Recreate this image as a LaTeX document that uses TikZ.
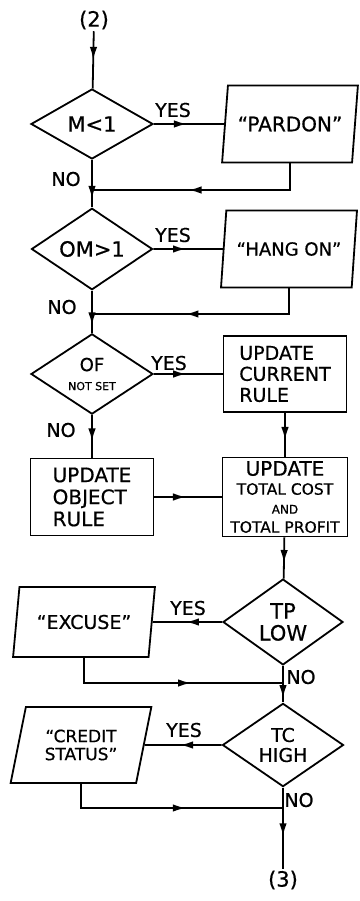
\documentclass[tikz,border=0pt]{standalone}
\usepackage{fontspec}
\setmainfont{DejaVu Sans}[FakeBold=0.6]
\usetikzlibrary{arrows.meta,shapes.geometric,decorations.markings}

\begin{document}
\begin{tikzpicture}[x=1pt, y=-1pt,
    line width=1.8pt,
    flow/.style={postaction={decorate}, decoration={markings,
      mark=at position #1 with {\arrow{Latex[length=13pt,width=7.5pt]}}}},
    flow/.default=0.5,
    test/.style={diamond, draw, inner sep=0pt, align=center, font=\fontsize{21}{22}\selectfont},
    io/.style={trapezium, trapezium left angle=72, trapezium right angle=108,
      trapezium stretches=true, draw, inner sep=0pt, align=center,
      minimum width=136pt, font=\fontsize{20}{21}\selectfont},
    act/.style={rectangle, draw, minimum width=123pt, minimum height=77pt, inner sep=0pt,
      font=\fontsize{20}{22}\selectfont},
    ans/.style={font=\fontsize{19}{19}\selectfont, inner sep=0pt},
    conn/.style={font=\fontsize{21}{21}\selectfont, inner sep=1pt}]
  % fixed 359 x 901 canvas, y grows downwards
  \path[use as bounding box] (0,0) rectangle (359,901);

  % ================= entry =================
  \node[conn] (in2) at (94,20) {(2)};

  % ================= row 1: M < 1 =================
  \node[test, minimum width=122pt, minimum height=70pt] (dM) at (92,124) {M<1};
  \node[io, minimum height=77pt] (pPar) at (290,124) {``PARDON''};
  \coordinate (j1) at (92,190);

  % ================= row 2: OM > 1 =================
  \node[test, minimum width=121pt, minimum height=69pt] (dOM) at (92,249) {OM>1};
  \node[io, minimum height=77pt, font=\fontsize{18}{19}\selectfont] (pHang) at (289,249) {``HANG ON''};
  \coordinate (j2) at (92,314);

  % ================= row 3: OF not set =================
  \node[test, minimum width=122pt, minimum height=68pt] (dOF) at (92,374)
    {{\fontsize{18}{18}\selectfont OF}\\[-3pt]{\fontsize{11}{12}\selectfont NOT SET}};
  \node[act, align=left, minimum height=76pt, font=\fontsize{19}{21}\selectfont] (bCur) at (285,374)
    {UPDATE\\CURRENT\\RULE};

  % ================= row 4: updates =================
  \node[act, align=left] (bObj) at (92,497) {UPDATE\\OBJECT\\RULE};
  \node[act, align=center, minimum width=125pt, minimum height=79pt] (bTot) at (285,497)
    {UPDATE\\[-3pt]{\fontsize{15.5}{15}\selectfont TOTAL COST}\\[-3pt]
     {\fontsize{12}{12}\selectfont AND}\\[-3pt]{\fontsize{15.5}{15}\selectfont TOTAL PROFIT}};

  % ================= row 5: TP low =================
  \node[test, minimum width=120pt, minimum height=70pt] (dTP) at (283,622) {TP\\LOW};
  \node[io, minimum height=70pt, minimum width=142pt, font=\fontsize{19}{20}\selectfont] (pExc) at (84,622)
    {``EXCUSE''};
  \coordinate (j3) at (283,683);

  % ================= row 6: TC high =================
  \node[test, minimum width=121pt, minimum height=68pt, font=\fontsize{19}{20}\selectfont] (dTC) at (283,745)
    {TC\\HIGH};
  \node[io, minimum height=76pt, minimum width=142pt, font=\fontsize{17}{18}\selectfont] (pCred) at (81,745)
    {``CREDIT\\STATUS''};
  \coordinate (j4) at (283,808);

  % ================= exit =================
  \node[conn] (out3) at (283,880) {(3)};

  % ================= answers =================
  \node[ans] (yM) at (173,110) {YES};
  \node[ans] (nM) at (66,179) {NO};
  \node[ans] (yOM) at (173,235) {YES};
  \node[ans] (nOM) at (62,307) {NO};
  \node[ans] (yOF) at (169,363) {YES};
  \node[ans] (nOF) at (61,430) {NO};
  \node[ans] (yTP) at (188,608) {YES};
  \node[ans] (nTP) at (301,677) {NO};
  \node[ans] (yTC) at (184,730) {YES};
  \node[ans] (nTC) at (299,800) {NO};

  % ================= connectors =================
  \draw[flow] (in2) -- (dM);
  \draw[flow=0.47] (dM) -- (pPar);
  \draw[flow=0.57] (pPar.south) |- (j1);
  \draw[flow=0.82] (dM) -- (dOM);
  \draw[flow=0.47] (dOM) -- (pHang);
  \draw[flow=0.58] (pHang.south) |- (j2);
  \draw[flow=0.82] (dOM) -- (dOF);
  \draw[flow=0.47] (dOF) -- (bCur);
  \draw[flow=0.62] (dOF) -- (bObj);
  \draw[flow=0.62] (bCur) -- (bTot);
  \draw[flow=0.47] (bObj) -- (bTot);
  \draw[flow=0.62] (bTot) -- (dTP);
  \draw[flow=0.52] (dTP) -- (pExc);
  \draw[flow=0.59] (pExc.south) |- (j3);
  \draw[flow=0.88] (dTP) -- (dTC);
  \draw[flow=0.54] (dTC) -- (pCred);
  \draw[flow=0.57] (pCred.south) |- (j4);
  \draw[flow=0.6] (dTC) -- (out3);
\end{tikzpicture}
\end{document}
